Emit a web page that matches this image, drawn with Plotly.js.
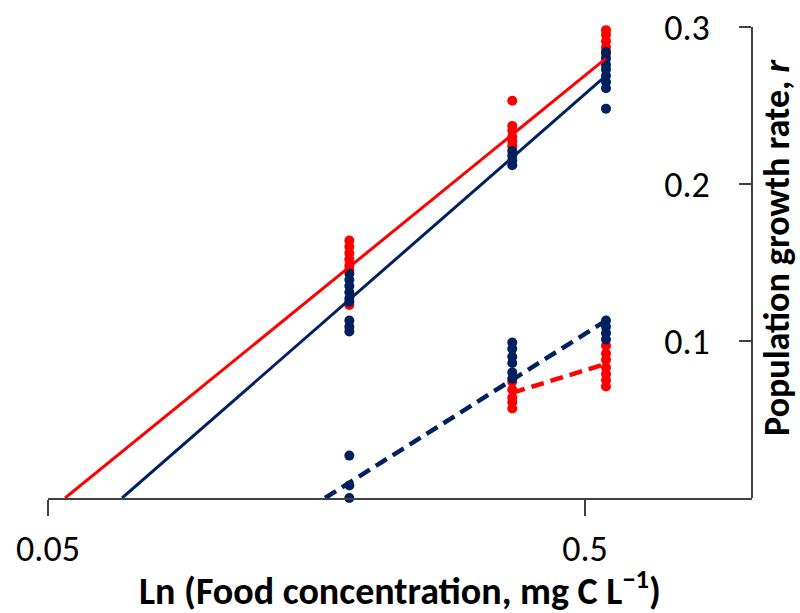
<!DOCTYPE html>
<html>
<head>
<meta charset="utf-8">
<script src="https://cdn.plot.ly/plotly-3.0.1.min.js"></script>
<style>html,body{margin:0;padding:0;background:#fff;}#chart{width:800px;height:613px;}</style>
</head>
<body>
<div id="chart"></div>
<script>
// Food concentration (mg C L^-1) of the three treatment columns
const foodConc = [0.182, 0.366, 0.547];

// Upper group (solid fits) - growth rate r
const redHigh = [
  [0.164, 0.160, 0.156, 0.152, 0.148, 0.145, 0.123],
  [0.253, 0.237, 0.234, 0.230, 0.227, 0.224],
  [0.298, 0.295, 0.291, 0.287, 0.283]
];
const blueHigh = [
  [0.143, 0.139, 0.135, 0.131, 0.127, 0.125, 0.113, 0.109, 0.106],
  [0.221, 0.218, 0.215, 0.212],
  [0.284, 0.280, 0.276, 0.273, 0.269, 0.265, 0.261, 0.248]
];
// Lower group (dashed fits)
const redLow = [
  [],
  [0.074, 0.069, 0.064, 0.061, 0.057],
  [0.097, 0.092, 0.088, 0.083, 0.079, 0.075, 0.071]
];
const blueLow = [
  [0.027, 0.008, 0.0],
  [0.099, 0.095, 0.090, 0.086, 0.080, 0.076],
  [0.113, 0.109, 0.105, 0.101]
];

// Fitted lines (end points)
const redFitX = [0.0538, 0.547], redFitY = [0, 0.280];
const blueFitX = [0.0687, 0.547], blueFitY = [0, 0.269];
const redDashX = [0.366, 0.547], redDashY = [0.067, 0.0855];
const blueDashX = [0.164, 0.547], blueDashY = [0, 0.113];

const xTickVals = [0.05, 0.5];
const xTickText = ['0.05', '0.5'];
const yTickVals = [0.1, 0.2, 0.3];
const yTickText = ['0.1', '0.2', '0.3'];
const xTitle = '<b>Ln (Food concentration, mg C L<sup>−1</sup>)</b>';
const yTitle = '<b>Population growth rate, <i>r</i></b>';

const RED = '#FF0000', BLUE = '#002060', AXIS = '#404040';
const FONT = 'Carlito, Lato, "Open Sans", sans-serif';

function flatten(groups) {
  const xs = [], ys = [];
  groups.forEach((g, i) => g.forEach(v => { xs.push(foodConc[i]); ys.push(v); }));
  return {x: xs, y: ys};
}
function pts(groups, color) {
  const d = flatten(groups);
  return {x: d.x, y: d.y, type: 'scatter', mode: 'markers', cliponaxis: false,
    marker: {color: color, size: 10, line: {width: 0}}, showlegend: false};
}
function ln(x, y, color, dash, width) {
  return {x: x, y: y, type: 'scatter', mode: 'lines', cliponaxis: false,
    line: {color: color, width: width, dash: dash}, showlegend: false};
}

const data = [
  pts(redHigh, RED), pts(blueHigh, BLUE), pts(redLow, RED), pts(blueLow, BLUE),
  ln(redFitX, redFitY, RED, 'solid', 3),
  ln(blueFitX, blueFitY, BLUE, 'solid', 3),
  ln(redDashX, redDashY, RED, '13px,7px', 4.5),
  ln(blueDashX, blueDashY, BLUE, '13px,7px', 4.5)
];

const layout = {
  width: 800, height: 613,
  margin: {l: 48, r: 48, t: 27, b: 115, pad: 0},
  paper_bgcolor: '#fff', plot_bgcolor: '#fff',
  font: {family: FONT, color: '#000', size: 30},
  xaxis: {
    type: 'log', range: [Math.log10(0.05), Math.log10(1.023)],
    tickvals: xTickVals, ticktext: xTickText,
    ticks: 'outside', ticklen: 16, tickwidth: 2, tickcolor: AXIS,
    showline: true, linecolor: AXIS, linewidth: 2,
    showgrid: false, zeroline: false,
    tickfont: {size: 36, family: FONT, color: '#000'},
    ticklabelstandoff: 2
  },
  yaxis: {
    anchor: 'free', position: 1, side: 'left', range: [0, 0.3],
    tickvals: yTickVals, ticktext: yTickText,
    ticks: 'outside', ticklen: 12, tickwidth: 2, tickcolor: AXIS,
    showline: true, linecolor: AXIS, linewidth: 2,
    showgrid: false, zeroline: false,
    tickfont: {size: 36, family: FONT, color: '#000'},
    ticklabelstandoff: 22
  },
  annotations: [
    {text: xTitle, xref: 'paper', yref: 'paper', x: 0.5, y: 0, xanchor: 'center', yanchor: 'middle',
     yshift: -90, showarrow: false, font: {size: 38, family: FONT, color: '#000'}},
    {text: yTitle, xref: 'paper', yref: 'paper', x: 1, y: 0.531, xanchor: 'center', yanchor: 'middle',
     xshift: 25, textangle: -90, showarrow: false, font: {size: 36, family: FONT, color: '#000'}}
  ]
};

Plotly.newPlot('chart', data, layout, {displayModeBar: false, staticPlot: true});
</script>
</body>
</html>
